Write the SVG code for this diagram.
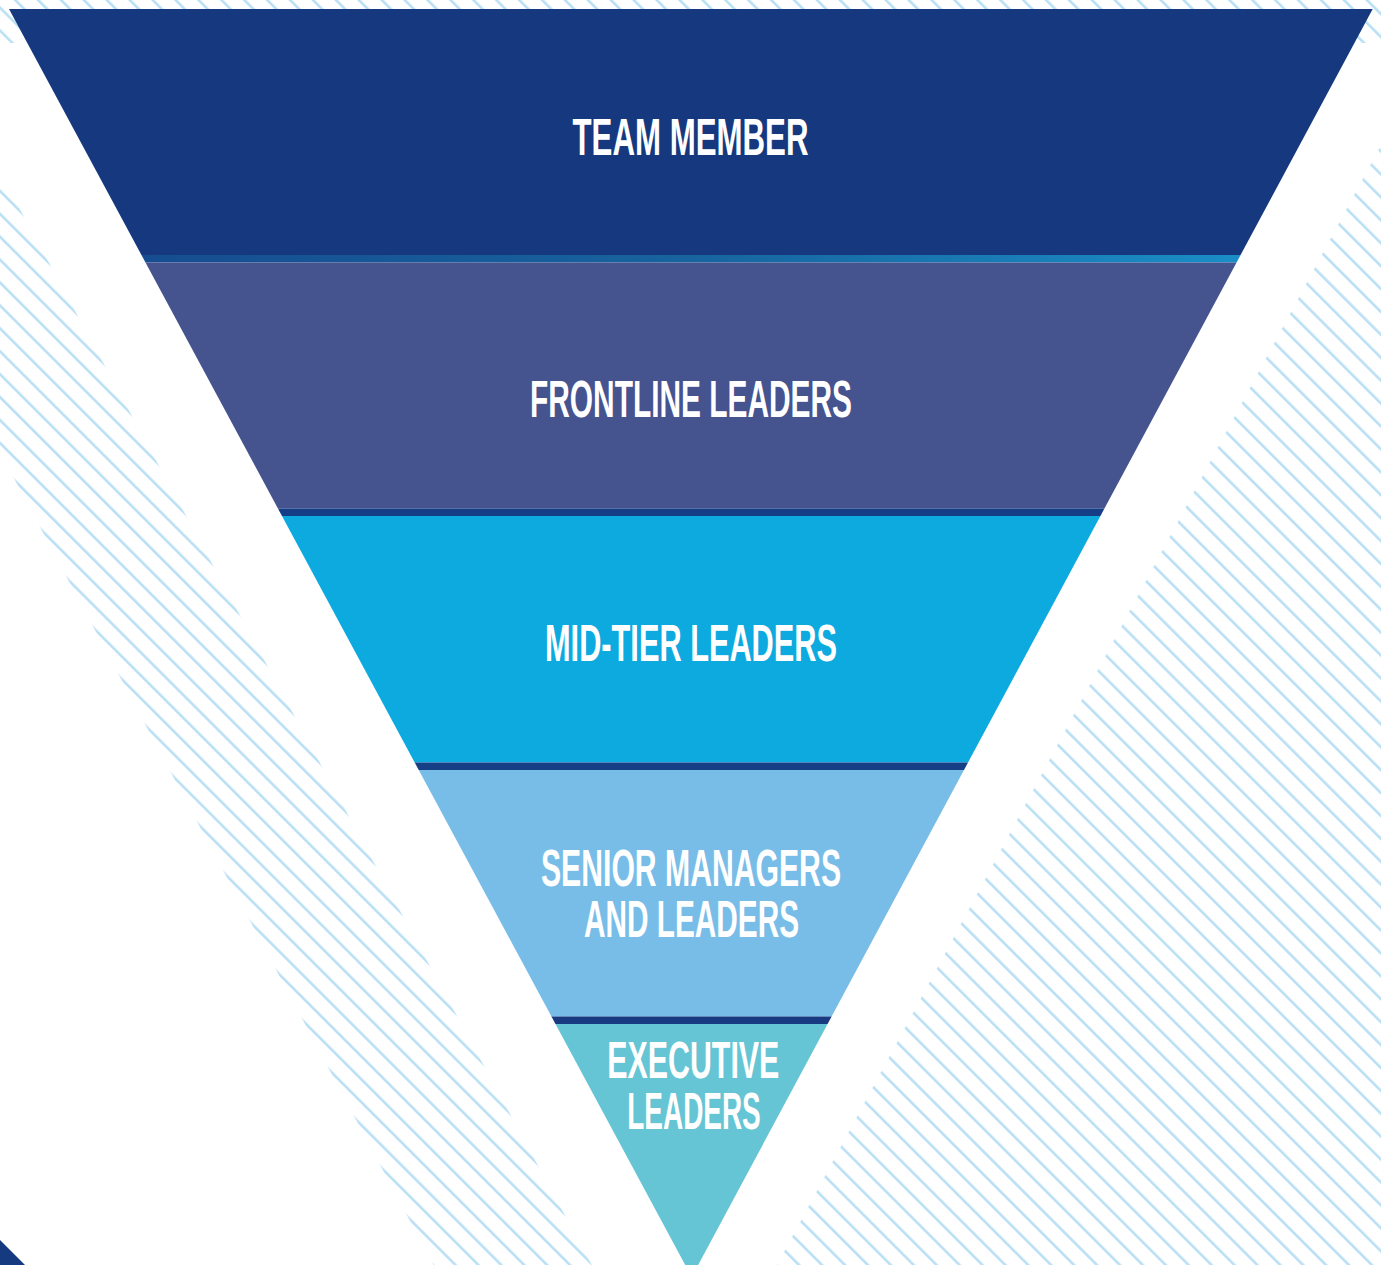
<svg xmlns="http://www.w3.org/2000/svg" width="1381" height="1265" viewBox="0 0 1381 1265">
  <style>
    .lbl { font-family: "Liberation Sans", Arial, sans-serif; font-weight: bold; font-size: 51px; fill: #ffffff; text-anchor: middle; }
    .hatch { fill: url(#hatch); }
  </style>
  <defs>
    <pattern id="hatch" patternUnits="userSpaceOnUse" width="16.2" height="16.2" patternTransform="rotate(45)">
      <rect x="0" y="4.15" width="16.2" height="2.6" fill="#b9dff4"/>
    </pattern>
    <clipPath id="tri">
      <polygon points="9,9 1372.7,9 691.7,1277"/>
    </clipPath>
    <linearGradient id="sep1" x1="0" y1="0" x2="1" y2="0">
      <stop offset="0" stop-color="#164d91"/>
      <stop offset="0.5" stop-color="#17649f"/>
      <stop offset="1" stop-color="#1a8ec7"/>
    </linearGradient>
  </defs>

  <rect width="1381" height="1265" fill="#ffffff"/>

  <g id="background-hatching">
    <rect class="hatch" x="0" y="0" width="1381" height="43"/>
    <polygon class="hatch" points="0,172.4 591.8,1265 433.5,1265 0,452"/>
    <polygon class="hatch" points="1381,145.2 1381,1265 777,1265"/>
    <polygon points="0,1240 25,1265 0,1265" fill="#163a80"/>
  </g>

  <g id="funnel" clip-path="url(#tri)">
    <g id="team-member">
      <rect x="0" y="0" width="1381" height="255" fill="#15387e"/>
      <text class="lbl" x="690.5" y="155" textLength="236" lengthAdjust="spacingAndGlyphs">TEAM MEMBER</text>
    </g>
    <rect x="140" y="255" width="1105" height="7.5" fill="url(#sep1)"/>
    <g id="frontline-leaders">
      <rect x="0" y="262.5" width="1381" height="246" fill="#45538f"/>
      <text class="lbl" x="691" y="417" textLength="322" lengthAdjust="spacingAndGlyphs">FRONTLINE LEADERS</text>
    </g>
    <rect x="0" y="508.5" width="1381" height="7.5" fill="#153e86"/>
    <g id="mid-tier-leaders">
      <rect x="0" y="516" width="1381" height="246.5" fill="#0daae0"/>
      <text class="lbl" x="691" y="661" textLength="292" lengthAdjust="spacingAndGlyphs">MID-TIER LEADERS</text>
    </g>
    <rect x="0" y="762.5" width="1381" height="7.5" fill="#163f85"/>
    <g id="senior-managers">
      <rect x="0" y="770" width="1381" height="246.5" fill="#78bde8"/>
      <text class="lbl" x="691" y="886" textLength="300" lengthAdjust="spacingAndGlyphs">SENIOR MANAGERS</text>
      <text class="lbl" x="691.5" y="937" textLength="215" lengthAdjust="spacingAndGlyphs">AND LEADERS</text>
    </g>
    <rect x="0" y="1016.5" width="1381" height="7.5" fill="#173a80"/>
    <g id="executive-leaders">
      <rect x="0" y="1024" width="1381" height="260" fill="#66c5d4"/>
      <text class="lbl" x="693.3" y="1078" textLength="172" lengthAdjust="spacingAndGlyphs">EXECUTIVE</text>
      <text class="lbl" x="694" y="1129" textLength="133.4" lengthAdjust="spacingAndGlyphs">LEADERS</text>
    </g>
  </g>

  <g id="connectors"/>
</svg>
